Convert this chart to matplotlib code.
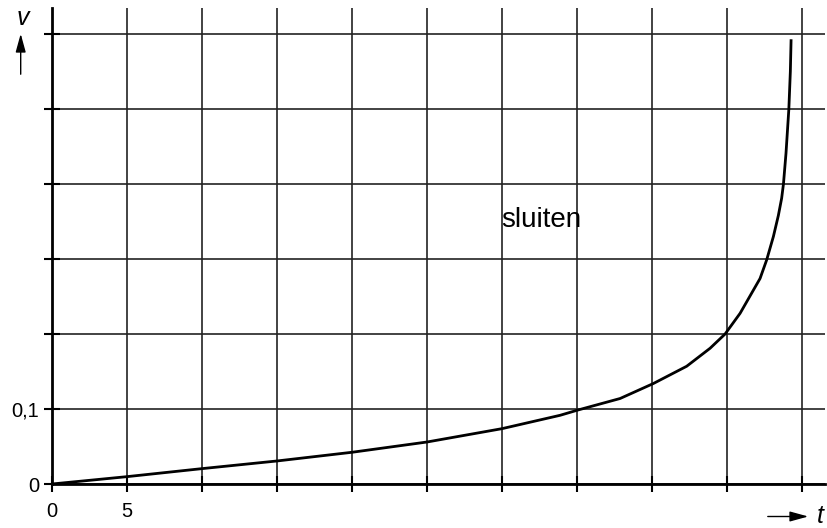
import matplotlib
matplotlib.use('Agg')
import matplotlib.pyplot as plt
from matplotlib.patches import FancyArrowPatch
import numpy as np

# values
t = [0, 5, 10, 15, 20, 25, 30, 33.87, 35.07, 37.87, 40.09, 42.31, 43.87,
     44.87, 45.87, 47.2, 47.64, 48.09, 48.42, 48.64, 48.76, 48.93, 49.12,
     49.22, 49.27]
v = [0, 0.0098, 0.0205, 0.0307, 0.0423, 0.056, 0.0738, 0.0916, 0.0987,
     0.114, 0.134, 0.157, 0.181, 0.200, 0.2276, 0.274, 0.2987, 0.33, 0.358,
     0.381, 0.400, 0.441, 0.500, 0.550, 0.593]

x_ticks = np.arange(0, 51, 5)
y_ticks = [0, 0.1, 0.2, 0.3, 0.4, 0.5, 0.6]
x_labels = {0: '0', 5: '5'}
y_labels = {0: '0', 0.1: '0,1'}

plt.rcParams['font.family'] = ['Liberation Sans', 'DejaVu Sans']

W, H = 828, 528
fig = plt.figure(figsize=(W / 100, H / 100), dpi=100)
ax = fig.add_axes([52 / W, 44 / H, 773 / W, 476 / H])

ax.plot(t, v, color='black', lw=2, zorder=3,
        solid_joinstyle='round', solid_capstyle='butt')

ax.set_xlim(0, 51.53)
ax.set_ylim(0, 0.6347)
ax.set_xticks(x_ticks)
ax.set_yticks(y_ticks)
ax.set_xticklabels([x_labels.get(int(x), '') for x in x_ticks])
ax.set_yticklabels([y_labels.get(y, '') for y in y_ticks])
ax.grid(True, color='#222222', lw=1.2)
ax.set_axisbelow(True)

for side in ['top', 'right']:
    ax.spines[side].set_visible(False)
for side in ['left', 'bottom']:
    ax.spines[side].set_linewidth(2)
ax.tick_params(direction='inout', length=12, width=1.5, labelsize=14.5)
ax.tick_params(axis='x', pad=7)
ax.tick_params(axis='y', pad=3)

ax.text(32.6, 0.3427, 'sluiten', fontsize=20, ha='center', va='baseline')

# axis names with arrows
fig.text(22.5 / W, 1 - 18 / H, 'v', fontsize=18, style='italic',
         ha='center', va='center')
fig.add_artist(FancyArrowPatch(
    (20.7 / W, 1 - 77 / H), (20.7 / W, 1 - 31 / H), transform=fig.transFigure,
    arrowstyle='-|>,head_length=0.8,head_width=0.22', mutation_scale=14,
    color='black', lw=1))
fig.text(820 / W, 1 - 516 / H, 't', fontsize=18, style='italic',
         ha='center', va='center')
fig.add_artist(FancyArrowPatch(
    (765 / W, 1 - 516.5 / H), (811 / W, 1 - 516.5 / H), transform=fig.transFigure,
    arrowstyle='-|>,head_length=0.8,head_width=0.22', mutation_scale=14,
    color='black', lw=1))

fig.savefig('out.png', dpi=100)
